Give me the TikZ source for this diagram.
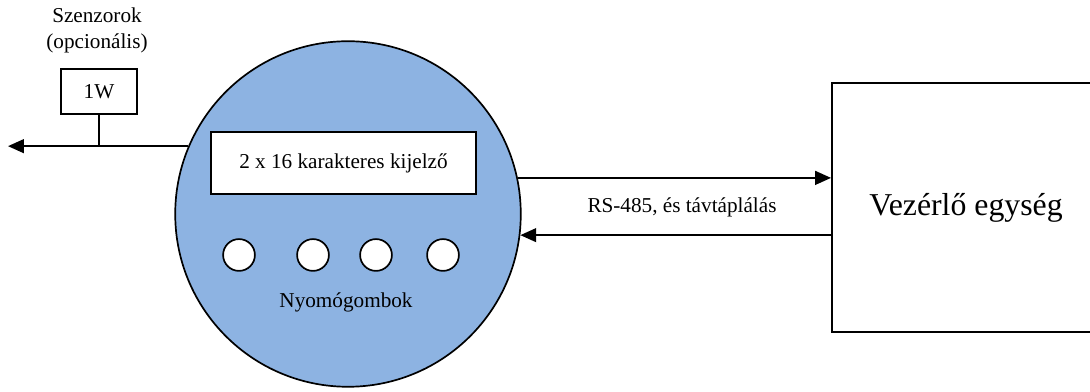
\documentclass[tikz,border=0pt]{standalone}
\usepackage{fontspec}
\setmainfont{Liberation Serif}
\usepackage{tikz}
\usetikzlibrary{arrows.meta,positioning,calc}
\definecolor{kek}{HTML}{8DB3E2}
\tikzset{
  keszulek/.style={circle, draw=black, fill=kek, line width=0.8pt, minimum size=163pt, inner sep=0pt},
  kijelzo/.style={rectangle, draw=black, fill=white, line width=0.8pt, minimum width=125pt, minimum height=29pt,
                  inner sep=0pt, font=\fontsize{10}{12}\selectfont},
  gomb/.style={circle, draw=black, fill=white, line width=0.8pt, minimum size=15pt, inner sep=0pt},
  doboz/.style={rectangle, draw=black, fill=white, line width=0.9pt, inner sep=0pt, align=center},
  lbl/.style={font=\fontsize{10}{12.3}\selectfont, align=center, inner sep=1pt},
  nyil/.style={-{Triangle[length=7.5pt,width=6.5pt]}, draw=black, line width=0.9pt},
  vonal/.style={draw=black, line width=0.8pt}
}
\begin{document}
\begin{tikzpicture}[x=0.4717pt, y=-0.4717pt]
  \useasboundingbox (0,0) rectangle (1090,392);
  % terminal
  \node[keszulek] (dev) at (348,214) {};
  \node[kijelzo] (kij) at (343.5,163) {2 x 16 karakteres kijelző};
  \foreach \i/\x in {1/239,2/313,3/376,4/443}
    \node[gomb] (g\i) at (\x,255) {};
  \node[lbl] (gombok) at (346,302) {Nyomógombok};
  % sensors
  \node[doboz, minimum width=35.8pt, minimum height=21.2pt, font=\fontsize{10}{12}\selectfont] (w1) at (99,91.5) {1W};
  \node[lbl] (szenz) at (97,30) {Szenzorok\\(opcionális)};
  \coordinate (bal) at (8,0);
  \draw[nyil] (dev.157) -- (dev.157 -| bal);
  \draw[vonal] (w1.south) -- (w1.south |- dev.157);
  % controller
  \node[doboz, minimum width=126.4pt, minimum height=117.5pt, font=\fontsize{15}{18}\selectfont] (vez) at (966,207.5) {Vezérlő egység};
  \draw[nyil] (dev.12) -- (dev.12 -| vez.west);
  \draw[nyil] (vez.west |- dev.-7.3) -- (dev.-7.3);
  \node[lbl] (rs) at (682,207) {RS-485, és távtáplálás};
\end{tikzpicture}
\end{document}
